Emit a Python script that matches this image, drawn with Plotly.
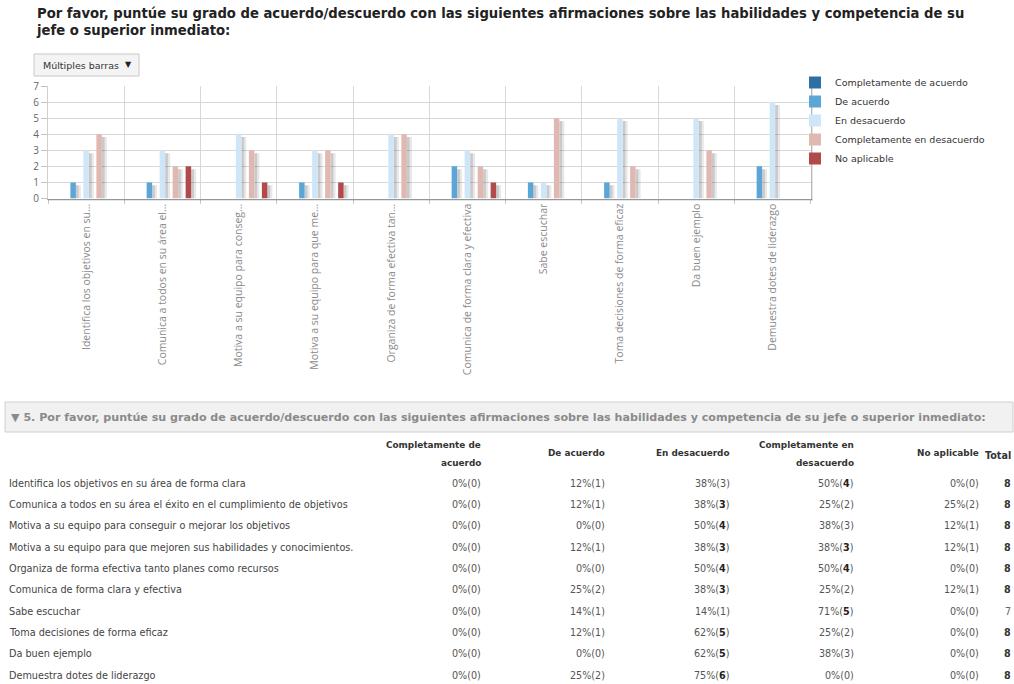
import plotly.graph_objects as go

W, H = 1014, 684

# ---- data -------------------------------------------------------------
series_names = [
    "Completamente de acuerdo",
    "De acuerdo",
    "En desacuerdo",
    "Completamente en desacuerdo",
    "No aplicable",
]
series_colors = ["#2f6ea5", "#5ba6d6", "#cfe6f8", "#dfb9b1", "#b04a4b"]

axis_labels = [
    "Identifica los objetivos en su...",
    "Comunica a todos en su área el...",
    "Motiva a su equipo para conseg...",
    "Motiva a su equipo para que me...",
    "Organiza de forma efectiva tan...",
    "Comunica de forma clara y efectiva",
    "Sabe escuchar",
    "Toma decisiones de forma eficaz",
    "Da buen ejemplo",
    "Demuestra dotes de liderazgo",
]
row_labels = [
    "Identifica los objetivos en su área de forma clara",
    "Comunica a todos en su área el éxito en el cumplimiento de objetivos",
    "Motiva a su equipo para conseguir o mejorar los objetivos",
    "Motiva a su equipo para que mejoren sus habilidades y conocimientos.",
    "Organiza de forma efectiva tanto planes como recursos",
    "Comunica de forma clara y efectiva",
    "Sabe escuchar",
    "Toma decisiones de forma eficaz",
    "Da buen ejemplo",
    "Demuestra dotes de liderazgo",
]

completamente_de_acuerdo = [0, 0, 0, 0, 0, 0, 0, 0, 0, 0]
de_acuerdo = [1, 1, 0, 1, 0, 2, 1, 1, 0, 2]
en_desacuerdo = [3, 3, 4, 3, 4, 3, 1, 5, 5, 6]
completamente_en_desacuerdo = [4, 2, 3, 3, 4, 2, 5, 2, 3, 0]
no_aplicable = [0, 2, 1, 1, 0, 1, 0, 0, 0, 0]

series_values = [
    completamente_de_acuerdo,
    de_acuerdo,
    en_desacuerdo,
    completamente_en_desacuerdo,
    no_aplicable,
]

title_text = ("Por favor, puntúe su grado de acuerdo/descuerdo con las siguientes "
              "afirmaciones sobre las habilidades y competencia de su<br>"
              "jefe o superior inmediato:")
section_text = ("▼ 5. Por favor, puntúe su grado de acuerdo/descuerdo con las siguientes "
                "afirmaciones sobre las habilidades y competencia de su jefe o superior inmediato:")
chart_type_label = "Múltiples barras"

# ---- layout helpers (pixel -> paper) -----------------------------------
def px(x):
    return x / W


def py(y):
    return 1 - y / H


PLOT_L, PLOT_R = 48, 810.5
PLOT_T, PLOT_B = 86, 198.5
cat_px = (PLOT_R - PLOT_L) / len(axis_labels)
slot = 13 / cat_px          # distance between neighbouring bars
bar_w = 5.5 / cat_px        # bar width in category units
shadow_w = 5 / cat_px
shadow_drop = 0.18          # shadow starts a little below the bar top

fig = go.Figure()

# soft drop shadows behind the bars
for i, vals in enumerate(series_values):
    centre = (i - 2) * slot
    for w, alpha in ((shadow_w, 0.09), (shadow_w * 0.55, 0.13)):
        fig.add_bar(
            x=axis_labels,
            y=[max(v - shadow_drop, 0) for v in vals],
            width=w,
            offset=centre + bar_w / 2,
            marker=dict(color=f"rgba(0,0,0,{alpha})", line=dict(width=0)),
            showlegend=False,
            hoverinfo="skip",
        )

# the bars themselves
for i, (name, vals, col) in enumerate(zip(series_names, series_values, series_colors)):
    centre = (i - 2) * slot
    fig.add_bar(
        x=axis_labels,
        y=vals,
        name=name,
        width=bar_w,
        offset=centre - bar_w / 2,
        marker=dict(color=col, line=dict(width=0)),
    )

annotations = []
shapes = []

# heading
annotations.append(dict(text="<b>" + title_text + "</b>", xref="paper", yref="paper",
                        x=px(34), y=py(4), xanchor="left", yanchor="top", align="left",
                        showarrow=False,
                        font=dict(family="DejaVu Sans", size=13.2, color="#222")))

# chart-type selector box
shapes.append(dict(type="rect", xref="paper", yref="paper",
                   x0=px(34), x1=px(139), y0=py(54), y1=py(76),
                   fillcolor="#f4f4f4", line=dict(color="#c8c8c8", width=1)))
annotations.append(dict(text=chart_type_label, xref="paper", yref="paper",
                        x=px(41), y=py(65), xanchor="left", yanchor="middle", showarrow=False,
                        font=dict(family="DejaVu Sans", size=9.5, color="#333")))
annotations.append(dict(text="▼", xref="paper", yref="paper",
                        x=px(128), y=py(64.5), xanchor="center", yanchor="middle", showarrow=False,
                        font=dict(family="DejaVu Sans", size=8, color="#222")))

# plot frame shading on the right and bottom edges
shapes.append(dict(type="line", xref="paper", yref="paper",
                   x0=px(PLOT_R + 1.5), x1=px(PLOT_R + 1.5), y0=py(PLOT_T), y1=py(PLOT_B + 1.5),
                   line=dict(color="rgba(0,0,0,0.10)", width=2)))
shapes.append(dict(type="line", xref="paper", yref="paper",
                   x0=px(PLOT_L), x1=px(PLOT_R + 2.5), y0=py(PLOT_B + 1.5), y1=py(PLOT_B + 1.5),
                   line=dict(color="rgba(0,0,0,0.10)", width=2)))

# ---- table below the chart ----------------------------------------------
shapes.append(dict(type="rect", xref="paper", yref="paper",
                   x0=px(5), x1=px(1013), y0=py(402), y1=py(432),
                   fillcolor="#f1f1f1", line=dict(color="#d0d0d0", width=1), layer="below"))
annotations.append(dict(text="<b>" + section_text + "</b>", xref="paper", yref="paper",
                        x=px(9), y=py(417), xanchor="left", yanchor="middle", showarrow=False,
                        font=dict(family="DejaVu Sans", size=11.1, color="#8a8a8a")))

col_right = [483, 607, 732, 856, 981]
header_lines = [
    ["Completamente de", "acuerdo"],
    ["De acuerdo"],
    ["En desacuerdo"],
    ["Completamente en", "desacuerdo"],
    ["No aplicable"],
]
hdr_font = dict(family="DejaVu Sans", size=8.9, color="#333")
for xr, lines in zip(col_right, header_lines):
    ys = [445, 463] if len(lines) == 2 else [453]
    for line, yy in zip(lines, ys):
        annotations.append(dict(text="<b>" + line + "</b>", xref="paper", yref="paper",
                                x=px(xr), y=py(yy), xanchor="right", yanchor="middle",
                                showarrow=False, font=hdr_font))
annotations.append(dict(text="<b>Total</b>", xref="paper", yref="paper",
                        x=px(1013), y=py(455), xanchor="right", yanchor="middle",
                        showarrow=False, font=dict(family="DejaVu Sans", size=9.6, color="#333")))

ROW0, ROW_STEP = 483, 21.35
cell_font = dict(family="DejaVu Sans", size=9.6, color="#555")
for r, label in enumerate(row_labels):
    yy = ROW0 + r * ROW_STEP
    counts = [s[r] for s in series_values]
    total = sum(counts)
    top = max(counts)
    annotations.append(dict(text=label, xref="paper", yref="paper",
                            x=px(7), y=py(yy), xanchor="left", yanchor="middle",
                            showarrow=False, font=dict(family="DejaVu Sans", size=9.7, color="#444")))
    for c, xr in zip(counts, col_right):
        pct = round(100 * c / total)
        is_top = c == top and c > 0
        num = f"<b>{c}</b>" if is_top else f"{c}"
        num_col = "#222" if is_top else "#555"
        annotations.append(dict(text=f"{pct}%(<span style='color:{num_col}'>{num}</span>)",
                                xref="paper", yref="paper",
                                x=px(xr), y=py(yy), xanchor="right", yanchor="middle",
                                showarrow=False, font=cell_font))
    full = total == 8
    annotations.append(dict(text=f"<b>{total}</b>" if full else f"{total}",
                            xref="paper", yref="paper",
                            x=px(1013), y=py(yy), xanchor="right", yanchor="middle",
                            showarrow=False,
                            font=dict(family="DejaVu Sans", size=9.6,
                                      color="#333" if full else "#666")))

fig.update_layout(
    width=W,
    height=H,
    autosize=False,
    margin=dict(l=0, r=0, t=0, b=0),
    paper_bgcolor="white",
    plot_bgcolor="white",
    barmode="overlay",
    xaxis=dict(
        domain=[px(PLOT_L), px(PLOT_R)],
        type="category",
        range=[-0.5, len(axis_labels) - 0.5],
        tickson="boundaries",
        showgrid=True, gridcolor="#d8d8d8", gridwidth=1,
        ticks="outside", ticklen=4, tickcolor="#c8c8c8",
        showline=True, linecolor="#a8a8a8", linewidth=1,
        tickangle=-90,
        tickfont=dict(family="Open Sans", size=10.5, color="#8a8a8a"),
        automargin=False,
        fixedrange=True,
    ),
    yaxis=dict(
        domain=[py(PLOT_B), py(PLOT_T)],
        range=[0, 7],
        dtick=1,
        showgrid=True, gridcolor="#d8d8d8", gridwidth=1,
        zeroline=False,
        ticks="outside", ticklen=6, tickcolor="#c0c0c0",
        showline=True, linecolor="#d0d0d0", mirror=True,
        tickfont=dict(family="Open Sans", size=10, color="#666"),
        automargin=False,
        fixedrange=True,
    ),
    legend=dict(
        x=px(795), xanchor="left", y=py(68), yanchor="top",
        font=dict(family="DejaVu Sans", size=9.5, color="#333"),
        bgcolor="rgba(0,0,0,0)",
        tracegroupgap=0,
        itemclick=False, itemdoubleclick=False,
    ),
    shapes=shapes,
    annotations=annotations,
    showlegend=True,
)

fig.write_html("out.html")
